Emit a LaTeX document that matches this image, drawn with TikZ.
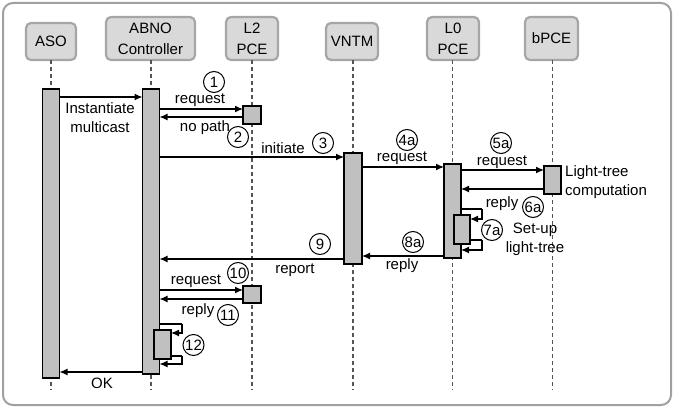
\documentclass[tikz,border=0pt]{standalone}
\usepackage{fontspec}
\setmainfont{Liberation Sans}
\usetikzlibrary{arrows.meta}
\definecolor{framegray}{HTML}{A0A0A0}
\definecolor{headfill}{HTML}{D9D9D9}
\definecolor{headline}{HTML}{A6A6A6}
\definecolor{barfill}{HTML}{C0C0C0}
\definecolor{lifegray}{HTML}{555555}
\begin{document}
\begin{tikzpicture}[x=1pt,y=-1pt,
  every node/.style={font=\fontsize{15}{19}\selectfont},
  head/.style={draw=headline,line width=2.2pt,fill=headfill,rounded corners=5pt,align=center,inner sep=0pt,outer sep=0pt,font=\fontsize{15}{21}\selectfont},
  bar/.style={draw=black,line width=1.2pt,fill=barfill,inner sep=0pt,outer sep=0pt},
  life/.style={draw=lifegray,line width=1.1pt,dash pattern=on 4pt off 3pt},
  msg/.style={draw=black,line width=1.2pt,-{Latex[length=8pt,width=7pt]}},
  loopline/.style={draw=black,line width=1.2pt},
  num/.style={draw=black,line width=1pt,circle,minimum size=21pt,inner sep=0pt},
  lbl/.style={inner sep=0pt,align=center}]
\useasboundingbox (0,0) rectangle (674,409);
\draw[framegray,line width=2pt,rounded corners=10pt] (3,3) rectangle (671,405);
% headers
\node[head,minimum width=50pt,minimum height=37pt] (aso) at (51,41.5) {ASO};
\node[head,minimum width=89pt,minimum height=43pt] (abno) at (150.5,38.5) {ABNO\\Controller};
\node[head,minimum width=52pt,minimum height=43pt] (l2) at (252,38.5) {L2\\PCE};
\node[head,minimum width=52pt,minimum height=37pt] (vntm) at (352,41.5) {VNTM};
\node[head,minimum width=52pt,minimum height=43pt] (l0) at (453,38.5) {L0\\PCE};
\node[head,minimum width=53pt,minimum height=43pt] (bpce) at (551.5,38.5) {bPCE};
% lifelines
\coordinate (asoEnd) at (51,390);
\coordinate (abnoEnd) at (151,390);
\coordinate (l2End) at (252,390);
\coordinate (vntmEnd) at (353,390);
\coordinate (l0End) at (452.5,390);
\coordinate (bpceEnd) at (552.5,390);
\draw[life] (aso.south -| asoEnd) -- (asoEnd);
\draw[life] (abno.south -| abnoEnd) -- (abnoEnd);
\draw[life] (l2.south -| l2End) -- (l2End);
\draw[life] (vntm.south -| vntmEnd) -- (vntmEnd);
\draw[life] (l0.south -| l0End) -- (l0End);
\draw[life] (bpce.south -| bpceEnd) -- (bpceEnd);
% activation bars
\node[bar,minimum width=17pt,minimum height=289pt] (asoBar) at (51,233.5) {};
\node[bar,minimum width=17pt,minimum height=285pt] (abnoBar) at (151,231.5) {};
\node[bar,minimum width=18pt,minimum height=18pt] (l2BoxA) at (252,115) {};
\node[bar,minimum width=18pt,minimum height=17pt] (l2BoxB) at (252,294.5) {};
\node[bar,minimum width=18pt,minimum height=111pt] (vntmBar) at (353,208.5) {};
\node[bar,minimum width=17pt,minimum height=94pt] (l0Bar) at (452.5,211) {};
\node[bar,minimum width=17pt,minimum height=28pt] (bpceBox) at (552.5,180) {};
\node[bar,minimum width=16pt,minimum height=29pt] (l0Inner) at (462,229.5) {};
\node[bar,minimum width=17pt,minimum height=29pt] (abnoInner) at (162.5,344.5) {};
% messages
\draw[msg] (asoBar.east |- 0,97) -- (abnoBar.west |- 0,97);
\node[lbl] (tInst) at (100,117.5) {Instantiate\\multicast};
\draw[msg] (abnoBar.east |- 0,109) -- (l2BoxA.west |- 0,109);
\node[lbl] (tReq1) at (200,100) {request};
\node[num] (c1) at (214,82) {1};
\draw[msg] (l2BoxA.west |- 0,117) -- (abnoBar.east |- 0,117);
\node[lbl] (tNoPath) at (205,128) {no path};
\node[num] (c2) at (238,137) {2};
\draw[msg] (abnoBar.east |- 0,157) -- (vntmBar.west |- 0,157);
\node[lbl] (tInit) at (283,148) {initiate};
\node[num] (c3) at (323,143) {3};
\draw[msg] (vntmBar.east |- 0,167) -- (l0Bar.west |- 0,167);
\node[lbl] (tReq4) at (402,158) {request};
\node[num] (c4) at (407,140) {4a};
\draw[msg] (l0Bar.east |- 0,170) -- (bpceBox.west |- 0,170);
\node[lbl] (tReq5) at (502,162) {request};
\node[num] (c5) at (501,143) {5a};
\node[lbl,align=left,anchor=west] (tLight) at (565,182) {Light-tree\\computation};
\draw[msg] (bpceBox.west |- 0,189) -- (l0Bar.east |- 0,189);
\node[lbl] (tRep6) at (502,204) {reply};
\node[num] (c6) at (533,207) {6a};
\coordinate (k7) at (482,209);
\draw[loopline] (l0Bar.east |- k7) -- (k7);
\draw[msg] (k7) -- (482,219) -- (l0Inner.east |- 0,219);
\coordinate (k7b) at (482,240);
\draw[loopline] (l0Inner.east |- k7b) -- (k7b);
\draw[msg] (k7b) -- (482,250) -- (l0Bar.east |- 0,250);
\node[num] (c7) at (492,230) {7a};
\node[lbl] (tSetup) at (535,239) {Set-up\\light-tree};
\draw[msg] (l0Bar.west |- 0,256) -- (vntmBar.east |- 0,256);
\node[lbl] (tRep8) at (402,266) {reply};
\node[num] (c8) at (413,242) {8a};
\draw[msg] (vntmBar.west |- 0,259) -- (abnoBar.east |- 0,259);
\node[lbl] (tReport) at (295,270) {report};
\node[num] (c9) at (320,244) {9};
\draw[msg] (abnoBar.east |- 0,290) -- (l2BoxB.west |- 0,290);
\node[lbl] (tReq10) at (196,281) {request};
\node[num] (c10) at (238,273) {10};
\draw[msg] (l2BoxB.west |- 0,299) -- (abnoBar.east |- 0,299);
\node[lbl] (tRep11) at (198,311) {reply};
\node[num] (c11) at (228,315) {11};
\coordinate (k12) at (182,324);
\draw[loopline] (abnoBar.east |- k12) -- (k12);
\draw[msg] (k12) -- (182,333) -- (abnoInner.east |- 0,333);
\coordinate (k12b) at (182,356);
\draw[loopline] (abnoInner.east |- k12b) -- (k12b);
\draw[msg] (k12b) -- (182,364) -- (abnoBar.east |- 0,364);
\node[num] (c12) at (193.5,345) {12};
\draw[msg] (abnoBar.west |- 0,372) -- (asoBar.east |- 0,372);
\node[lbl] (tOK) at (102,383) {OK};
\end{tikzpicture}
\end{document}
